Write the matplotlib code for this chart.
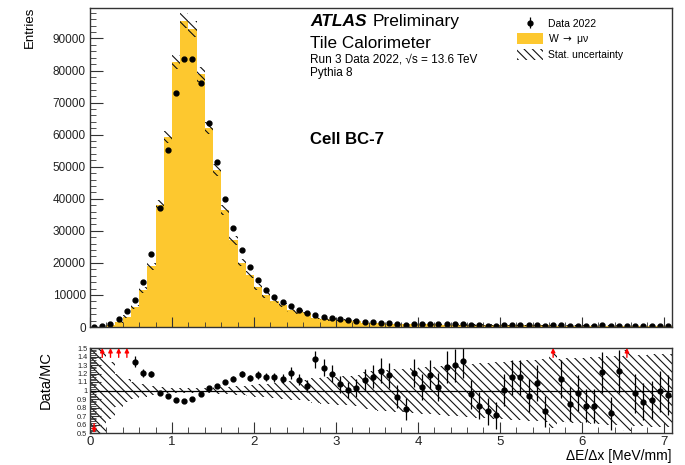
import numpy as np
import matplotlib.pyplot as plt
from matplotlib.patches import Patch
from matplotlib.ticker import MultipleLocator, FuncFormatter

plt.rcParams['font.family'] = ['Liberation Sans', 'DejaVu Sans']
plt.rcParams['hatch.linewidth'] = 0.8

# dE/dx bins, 0.1 MeV/mm wide
bin_edges = np.round(np.arange(0, 7.15, 0.1), 2)

# W -> mu nu MC prediction per bin
mc = [150, 120, 550, 1650, 3200, 6350, 11500, 19000, 38200, 59300,
      82600, 95600, 92900, 78800, 62100, 49000, 36400, 27000, 20100, 16300,
      12450, 9900, 8100, 6750, 5300, 4650, 4250, 2780, 2550, 2350,
      2240, 2180, 1830, 1400, 1250, 1130, 1060, 1000, 960, 880,
      850, 800, 780, 720, 690, 660, 650, 620, 600, 580,
      560, 540, 520, 500, 490, 470, 330, 450, 440, 430,
      420, 410, 400, 390, 380, 280, 370, 360, 350, 345,
      340]

# Data 2022 per bin
data = [50, 280, 1050, 2600, 5000, 8500, 13900, 22700, 37200, 55200,
        73100, 83700, 83600, 76000, 63600, 51400, 40000, 30800, 24000, 18750,
        14700, 11500, 9350, 7700, 6400, 5250, 4470, 3800, 3240, 2820,
        2400, 2200, 1880, 1580, 1450, 1390, 1250, 925, 755, 1065,
        885, 950, 810, 920, 895, 890, 620, 510, 455, 410,
        565, 625, 600, 470, 535, 355, 530, 510, 370, 415,
        345, 335, 485, 285, 465, 450, 357, 313, 312, 342,
        321]

# average event weights used for the statistical errors
data_weight = 20
mc_weight = 63

mc = np.array(mc, dtype=float)
data = np.array(data, dtype=float)
centers = 0.5 * (bin_edges[:-1] + bin_edges[1:])
width = 0.1

data_err = np.sqrt(data_weight * data)
mc_err = np.sqrt(mc_weight * mc)
ratio = data / mc
ratio_err = data_err / mc
mc_rel = mc_err / mc

yellow = '#fdc82f'
frame = '#333333'
hatch = '\\' * 4

fig = plt.figure(figsize=(6.85, 4.65), dpi=100)
ax = fig.add_axes([90 / 685, 138 / 465, 582 / 685, 319 / 465])
rax = fig.add_axes([90 / 685, 32 / 465, 582 / 685, 85 / 465])

# --- main panel ---
ax.stairs(mc, bin_edges, fill=True, color=yellow, lw=0)
ax.bar(centers, 2 * mc_err, bottom=mc - mc_err, width=width, fill=False,
       hatch=hatch, lw=0, edgecolor='#111111')
ax.plot(centers, data, 'o', color='black', ms=3.5)

ax.set_xlim(0, 7.1)
ax.set_ylim(0, 99500)
ax.yaxis.set_major_locator(MultipleLocator(10000))
ax.yaxis.set_minor_locator(MultipleLocator(2000))
ax.yaxis.set_major_formatter(FuncFormatter(lambda v, p: f'{v:.0f}'))
ax.xaxis.set_major_locator(MultipleLocator(1))
ax.xaxis.set_minor_locator(MultipleLocator(0.2))
ax.tick_params(axis='x', labelbottom=False)
ax.tick_params(which='both', direction='in', colors=frame, labelcolor='#222222')
ax.tick_params(axis='y', which='major', length=9, labelsize=8.5, pad=3)
ax.tick_params(axis='y', which='minor', length=4.5)
ax.tick_params(axis='x', which='major', length=7)
ax.tick_params(axis='x', which='minor', length=3.6)

# --- ratio panel ---
rax.axhline(1, color='black', lw=0.9)
rax.bar(centers, 2 * mc_rel, bottom=1 - mc_rel, width=width, fill=False,
        hatch=hatch, lw=0, edgecolor='#111111')
inside = (ratio >= 0.5) & (ratio <= 1.5)
eb = rax.errorbar(centers[inside], ratio[inside], yerr=ratio_err[inside],
                  fmt='o', color='black', ms=3.5, elinewidth=0.9, capsize=0)
for x, r in zip(centers, ratio):
    if r > 1.5:
        rax.annotate('', xy=(x, 1.5), xytext=(x, 1.39),
                     arrowprops=dict(arrowstyle='-|>', color='red', lw=1,
                                     mutation_scale=6, shrinkA=0, shrinkB=0))
    elif r < 0.5:
        rax.annotate('', xy=(x, 0.5), xytext=(x, 0.61),
                     arrowprops=dict(arrowstyle='-|>', color='red', lw=1,
                                     mutation_scale=6, shrinkA=0, shrinkB=0))

rax.set_xlim(0, 7.1)
rax.set_ylim(0.5, 1.5)
rax.yaxis.set_major_locator(MultipleLocator(0.1))
rax.yaxis.set_minor_locator(MultipleLocator(0.02))
rax.yaxis.set_major_formatter(FuncFormatter(lambda v, p: f'{v:g}'))
rax.xaxis.set_major_locator(MultipleLocator(1))
rax.xaxis.set_minor_locator(MultipleLocator(0.2))
rax.tick_params(which='both', direction='in', colors=frame, labelcolor='#222222')
rax.tick_params(axis='y', which='major', length=8, labelsize=5.3, pad=2)
rax.tick_params(axis='y', which='minor', length=4)
rax.tick_params(axis='x', which='major', length=8, labelsize=9.5, pad=2.5)
rax.tick_params(axis='x', which='minor', length=4)

for a in (ax, rax):
    for s in a.spines.values():
        s.set_color(frame)
        s.set_linewidth(1)

# axis titles
fig.text(30 / 685, 1 - 7 / 465, 'Entries', rotation=90, ha='center', va='top', fontsize=9.5)
fig.text(46 / 685, 1 - 380 / 465, 'Data/MC', rotation=90, ha='center', va='center', fontsize=10.5)
fig.text(672 / 685, 5 / 465, 'ΔE/Δx [MeV/mm]', ha='right', va='baseline', fontsize=10)

# labels
fig.text(310 / 685, 1 - 26 / 465, 'ATLAS', fontsize=12.5, fontweight='bold', style='italic')
fig.text(373 / 685, 1 - 26 / 465, 'Preliminary', fontsize=12.5)
fig.text(310 / 685, 1 - 48 / 465, 'Tile Calorimeter', fontsize=12.3)
fig.text(310 / 685, 1 - 62 / 465, 'Run 3 Data 2022, √s = 13.6 TeV', fontsize=8.5)
fig.text(310 / 685, 1 - 76 / 465, 'Pythia 8', fontsize=8.5)
fig.text(310 / 685, 1 - 144 / 465, 'Cell BC-7', fontsize=12.1, fontweight='bold')

handles = [eb, Patch(facecolor=yellow, lw=0),
           Patch(facecolor='white', edgecolor='#111111', hatch=hatch, lw=0)]
labels = ['Data 2022', 'W $\\rightarrow$ μν', 'Stat. uncertainty']
ax.legend(handles, labels, loc='upper left', bbox_to_anchor=(517 / 685, 1 - 18 / 465),
          bbox_transform=fig.transFigure, frameon=False, fontsize=7.5,
          handlelength=2.5, handleheight=1.3, handletextpad=0.5,
          labelspacing=0.25, borderpad=0, borderaxespad=0)

fig.savefig('out.png', dpi=100)
